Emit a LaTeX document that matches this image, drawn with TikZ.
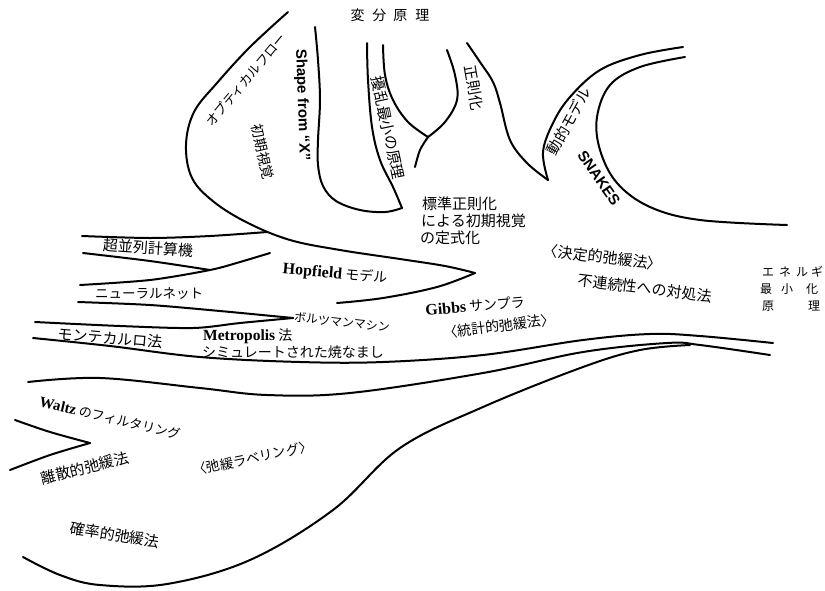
\documentclass[tikz,border=0pt]{standalone}
\usepackage{fontspec}
\setmainfont{Liberation Serif}
\newfontfamily\jp{Noto Sans CJK JP}
\newfontfamily\lsans{Liberation Sans}
\begin{document}
\begin{tikzpicture}[x=1pt,y=-1pt,
  curve/.style={draw=black, line width=2pt, line cap=round, line join=round},
  lbl/.style={inner sep=0pt, font=\jp\fontsize{14}{16}\selectfont},
  small/.style={font=\jp\fontsize{12}{14}\selectfont},
  mid/.style={font=\jp\fontsize{15}{17}\selectfont}]
\useasboundingbox (0,0) rectangle (825,590);
\fill[white] (0,0) rectangle (825,590);

% ---- curves ----
% optical flow outer curve + Hopfield upper edge
\draw[curve] plot[smooth,tension=.6] coordinates {(288,12) (250,47) (217,83) (194,112) (186,145) (192,178) (214,202) (248,223) (290,240) (340,250) (400,259) (445,266) (475,273)};
\draw[curve] plot[smooth,tension=.6] coordinates {(475,273) (437,287) (383,298) (337,303)};
% parallel computer lines
\draw[curve] plot[smooth] coordinates {(82,236) (150,238) (210,236) (267,232)};
\draw[curve] plot[smooth] coordinates {(83,253) (150,261) (210,270)};
\draw[curve] plot[smooth] coordinates {(270,253) (240,262) (210,270) (150,280) (80,285)};
% neural net / Boltzmann
\draw[curve] plot[smooth] coordinates {(78,302) (150,305) (220,311) (293,318)};
\draw[curve] plot[smooth] coordinates {(35,322) (120,326) (193,328) (240,323) (293,318)};
% long lines to the right
\draw[curve] plot[smooth,tension=.6] coordinates {(33,338) (110,346) (200,357) (300,362) (383,362) (483,355) (583,340) (650,334) (700,336) (773,343)};
\draw[curve] plot[smooth,tension=.6] coordinates {(28,382) (100,378) (200,388) (267,395) (350,393) (483,373) (583,352) (667,343) (700,345) (770,355)};
\draw[curve] plot[smooth,tension=.6] coordinates {(23,557) (60,575) (100,585) (167,584) (250,560) (333,510) (400,448) (483,407) (583,367) (640,350) (690,345)};
% Waltz notch
\draw[curve] plot[smooth] coordinates {(15,420) (50,432) (90,443)};
\draw[curve] plot[smooth] coordinates {(90,443) (50,455) (10,470)};
% U shape (Shape from X)
\draw[curve] plot[smooth,tension=.6] coordinates {(315,27) (318,60) (320,100) (318,140) (318,165) (323,186) (336,201) (360,210) (385,212) (402,208)};
\draw[curve] plot[smooth,tension=.6] coordinates {(367,43) (368,80) (372,127) (380,160) (393,187) (402,208)};
% Y shape
\draw[curve] plot[smooth,tension=.6] coordinates {(383,45) (385,75) (393,100) (408,122) (428,137)};
\draw[curve] plot[smooth,tension=.6] coordinates {(447,50) (455,75) (457,100) (445,122) (428,137)};
\draw[curve] plot[smooth] coordinates {(428,137) (420,150) (415,167)};
% regularization curve and dynamic model arc
\draw[curve] plot[smooth,tension=.6] coordinates {(467,43) (480,62) (493,82) (500,103) (510,140) (527,163) (548,180)};
\draw[curve] plot[smooth,tension=.6] coordinates {(548,180) (543,152) (553,123) (570,97) (600,70) (640,55) (683,47)};
% SNAKES arc
\draw[curve] plot[smooth,tension=.6] coordinates {(685,57) (640,67) (610,85) (597,117) (600,150) (617,183) (650,207) (700,220) (787,225)};

% ---- labels ----
\node[lbl] (bunri) at (390,15) {変\hspace{8pt}分\hspace{7pt}原\hspace{8pt}理};
\node[lbl, font=\jp\fontsize{13}{15}\selectfont, rotate=50] (optflow) at (246,80) {オプティカルフロー};
\node[lbl, rotate=-77] (shoki) at (263,152) {初期視覚};
\node[lbl, font=\lsans\bfseries\fontsize{15}{17}\selectfont, rotate=-88] (shape) at (302,105) {Shape from “X”};
\node[lbl, mid, rotate=-78] (jouran) at (388,128) {擾乱最小の原理};
\node[lbl, mid, rotate=-80] (seisoku) at (474,88) {正則化};
\node[lbl, mid, rotate=61] (douteki) at (569,121) {動的モデル};
\node[lbl, font=\lsans\bfseries\fontsize{15}{17}\selectfont, rotate=-55] (snakes) at (599,178) {SNAKES};
\node[lbl, mid, anchor=west] (hyo1) at (422,204) {標準正則化};
\node[lbl, mid, anchor=west] (hyo2) at (421,221) {による初期視覚};
\node[lbl, mid, anchor=west] (hyo3) at (420,238) {の定式化};
\node[lbl, mid, rotate=-7] (kettei) at (603,257) {〈決定的弛緩法〉};
\node[lbl, mid, rotate=-7] (fuzoku) at (645,288) {不連続性への対処法};
\node[lbl, small, anchor=west] (ene1) at (762,272) {エ\hspace{5pt}ネ\hspace{5pt}ル\hspace{3pt}ギ};
\node[lbl, small, anchor=west] (ene2) at (760,289) {最\hspace{9pt}小\hspace{13pt}化};
\node[lbl, small, anchor=west] (ene3) at (762,306) {原\hspace{34pt}理};
\node[lbl, rotate=-5] (hopfield) at (335,274) {{\rmfamily\bfseries\fontsize{16}{18}\selectfont Hopfield} モデル};
\node[lbl, small, rotate=-6] (boltz) at (342,322) {ボルツマンマシン};
\node[lbl, rotate=5] (gibbs) at (475,306) {{\rmfamily\bfseries\fontsize{16}{18}\selectfont Gibbs} サンプラ};
\node[lbl, rotate=7] (toukei) at (499,326) {〈統計的弛緩法〉};
\node[lbl, mid, rotate=-4] (chou) at (148,248) {超並列計算機};
\node[lbl, font=\jp\fontsize{13.5}{15}\selectfont] (neural) at (149,294) {ニューラルネット};
\node[lbl, mid, rotate=-5] (monte) at (110,338) {モンテカルロ法};
\node[lbl, anchor=west] (metro) at (203,336) {{\rmfamily\bfseries\fontsize{15.5}{17}\selectfont Metropolis} 法};
\node[lbl, anchor=west] (simu) at (202,352) {シミュレートされた焼なまし};
\node[lbl, font=\jp\fontsize{13}{15}\selectfont, rotate=-13] (waltz) at (110,418) {{\rmfamily\bfseries\fontsize{15}{17}\selectfont Waltz} のフィルタリング};
\node[lbl, mid, rotate=14] (risan) at (85,468) {離散的弛緩法};
\node[lbl, font=\jp\fontsize{13.5}{15}\selectfont, rotate=12] (label) at (253,458) {〈弛緩ラベリング〉};
\node[lbl, mid, rotate=-9] (kakuritsu) at (115,535) {確率的弛緩法};
\end{tikzpicture}
\end{document}
